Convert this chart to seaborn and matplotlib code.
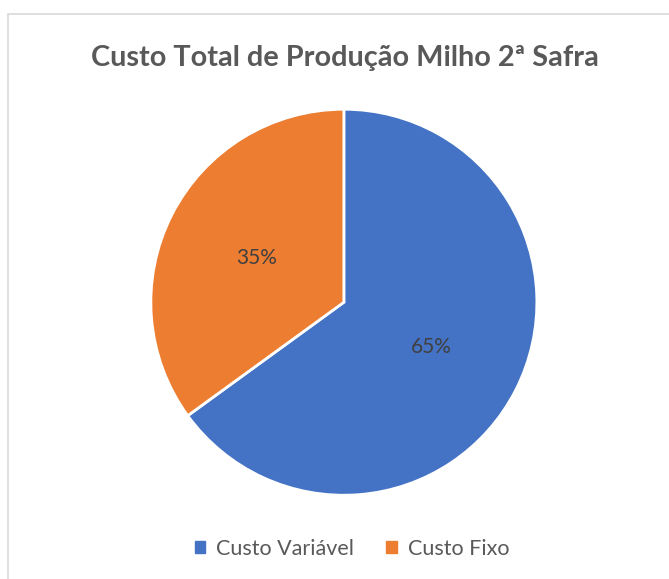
import matplotlib
matplotlib.use("Agg")
import matplotlib.pyplot as plt
import matplotlib.patches as mpatches
import seaborn as sns

categories = ["Custo Variável", "Custo Fixo"]
shares = [65, 35]
colors = ["#4472C4", "#ED7D31"]
title = "Custo Total de Produção Milho 2ª Safra"

sns.set_theme(style="white")
plt.rcParams["font.family"] = ["Lato", "DejaVu Sans"]

fig = plt.figure(figsize=(6.69, 5.79), dpi=100)

# light chart border (only top/left visible in the reference crop)
fig.patches.append(mpatches.Rectangle((8 / 669, -0.05), 1.2, (579 - 14) / 579 + 0.05,
                                      transform=fig.transFigure, fill=False,
                                      edgecolor="#D9D9D9", linewidth=1.2))

ax = fig.add_axes([0.514 - 0.2885, 0.478 - 0.3335, 0.577, 0.667])
wedges, texts, autotexts = ax.pie(shares, colors=colors, startangle=90, counterclock=False,
                                  autopct="%1.0f%%", pctdistance=0.51,
                                  wedgeprops=dict(edgecolor="white", linewidth=2),
                                  textprops=dict(color="#404040", fontsize=15))
ax.set_xlim(-1, 1)
ax.set_ylim(-1, 1)
ax.set_aspect("equal")
ax.axis("off")

fig.text(0.516, 1 - 58 / 579, title, ha="center", va="center", fontsize=20.8,
         fontweight="bold", color="#595959")

handles = [mpatches.Patch(color=c, label=l) for c, l in zip(colors, categories)]
fig.legend(handles=handles, loc="center", bbox_to_anchor=(0.526, 0.052), ncol=2,
           frameon=False, fontsize=15.5, labelcolor="#595959", handlelength=0.5,
           handleheight=0.5, handletextpad=0.5, columnspacing=1.5)

fig.savefig("out.png", dpi=100, facecolor="white")
